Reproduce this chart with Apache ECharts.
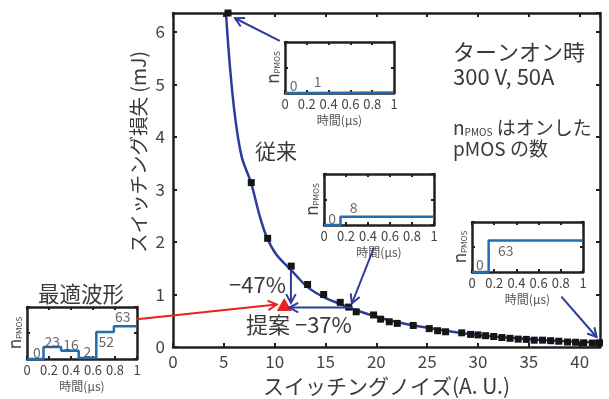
<!DOCTYPE html>
<html><head><meta charset="utf-8">
<script src="https://cdn.jsdelivr.net/npm/echarts@6/dist/echarts.min.js"></script>
<style>html,body{margin:0;padding:0;background:#fff}#c{width:609px;height:399px}</style>
</head><body><div id="c"></div>
<script>
// ---- main data: switching noise (A.U.) vs switching loss (mJ) ----
const noiseX = [5.41,7.70,9.31,11.63,13.24,14.82,16.45,17.28,18.02,19.73,20.42,21.27,22.06,23.63,25.20,26.03,26.81,28.40,29.27,30.00,30.75,31.55,32.35,33.15,33.95,34.75,35.53,36.35,37.15,37.95,38.80,39.60,40.40,41.25,41.95];
const lossY  = [6.36,3.13,2.07,1.54,1.19,1.00,0.85,0.76,0.67,0.61,0.53,0.48,0.45,0.41,0.35,0.31,0.29,0.27,0.24,0.23,0.215,0.20,0.18,0.165,0.15,0.145,0.13,0.13,0.12,0.11,0.095,0.09,0.08,0.075,0.08];
// fitted curve
const fitX = [5.21,5.60,6.10,6.76,7.67,8.55,9.27,10.20,11.60,13.24,14.82,16.42,17.99,21.24,25.17,29.20,33.14,37.07,41.99];
const fitY = [6.36,5.34,4.39,3.62,3.13,2.48,2.07,1.75,1.47,1.14,0.95,0.82,0.70,0.51,0.36,0.245,0.175,0.125,0.085];
// proposed point
const propX = [10.94];
const propY = [0.81];
// axis ticks
const xTickStep = 5, xMax = 42;
const yTickStep = 1, yMax = 6.36;
// ---- inset waveforms: time (us) vs n_PMOS ----
const insetTicks = [0,0.2,0.4,0.6,0.8,1];
const wfA_t = [0,0.15,1],  wfA_n = [0,1,1];
const wfB_t = [0,0.15,1],  wfB_n = [0,8,8];
const wfC_t = [0,0.15,1],  wfC_n = [0,63,63];
const wfD_t = [0,0.15,0.31,0.47,0.63,0.79,1], wfD_n = [0,23,16,2,52,63,63];
const insetYMax = [100,50,100,100];
// inset value labels [t, n, text]
const lblA = [[0.08,15,'0'],[0.30,22,'1']];
const lblB = [[0.075,6,'0'],[0.27,16.5,'8']];
const lblC = [[0.07,14,'0'],[0.305,43,'63']];
const lblD = [[0.09,13,'0'],[0.23,33.5,'23'],[0.40,27,'16'],[0.55,14,'2'],[0.72,33.5,'52'],[0.87,81,'63']];

const FONT = '"Noto Sans CJK JP","Noto Sans",sans-serif';
const TXT = '#3a3a3a';
const AX = '#231f20';
const BLUE = '#2b3c9e';
const STEP = '#1f6db3';
const RED = '#e8231f';

const chart = echarts.init(document.getElementById('c'), null, {renderer:'canvas'});

const insetBoxes = [
  {left:285, top:42, width:109, height:51},
  {left:324, top:174, width:110, height:51},
  {left:472, top:222, width:111, height:50},
  {left:27, top:307, width:110, height:52}
];
const wfs = [[wfA_t,wfA_n],[wfB_t,wfB_n],[wfC_t,wfC_n],[wfD_t,wfD_n]];
const lbls = [lblA,lblB,lblC,lblD];

const line = (w)=>({onZero:false, lineStyle:{color:AX,width:w}});
const grids = [{left:173, top:13, right:9, bottom:52, outerBoundsMode:'none'}];
const xAxes = [
  {gridIndex:0, type:'value', position:'bottom', min:0, max:xMax, interval:xTickStep,
   axisLine:line(2.5), splitLine:{show:false},
   axisTick:{inside:true,length:4,lineStyle:{color:AX,width:2}},
   axisLabel:{color:'#444',fontSize:17,fontFamily:FONT,margin:6,showMaxLabel:false},
   name:'スイッチングノイズ(A. U.)', nameLocation:'middle', nameGap:29,
   nameTextStyle:{color:TXT,fontSize:21,fontFamily:FONT}},
  {gridIndex:0, type:'value', position:'top', min:0, max:xMax, interval:xTickStep,
   axisLine:line(2.5), splitLine:{show:false},
   axisTick:{inside:true,length:4,lineStyle:{color:AX,width:2}}, axisLabel:{show:false}}
];
const yAxes = [
  {gridIndex:0, type:'value', position:'left', min:0, max:yMax, interval:yTickStep,
   axisLine:line(2.5), splitLine:{show:false},
   axisTick:{inside:true,length:4,lineStyle:{color:AX,width:2}},
   axisLabel:{color:'#444',fontSize:17,fontFamily:FONT,margin:8,showMaxLabel:false}},
  {gridIndex:0, type:'value', position:'right', min:0, max:yMax, interval:yTickStep,
   axisLine:line(2.5), splitLine:{show:false},
   axisTick:{inside:true,length:4,lineStyle:{color:AX,width:2}}, axisLabel:{show:false}}
];
const series = [
  {type:'line', xAxisIndex:0, yAxisIndex:0, data:fitX.map((x,i)=>[x,fitY[i]]),
   smooth:0.35, showSymbol:false, lineStyle:{color:BLUE,width:2.5}, z:2, clip:false},
  {type:'scatter', xAxisIndex:0, yAxisIndex:0, data:noiseX.map((x,i)=>[x,lossY[i]]),
   symbol:'rect', symbolSize:7, itemStyle:{color:'#151515',opacity:1}, z:3, clip:false},
  {type:'scatter', xAxisIndex:0, yAxisIndex:0, data:propX.map((x,i)=>[x,propY[i]]),
   symbol:'triangle', symbolSize:[15,13], itemStyle:{color:RED,opacity:1}, z:4, clip:false}
];

insetBoxes.forEach((b,k)=>{
  const gi = k+1;
  grids.push(Object.assign({outerBoundsMode:'none'}, b));
  const xi = xAxes.length, yi = yAxes.length;
  const ym = insetYMax[k];
  xAxes.push({gridIndex:gi, type:'value', position:'bottom', min:0, max:1, interval:0.2,
    axisLine:line(2.5), splitLine:{show:false},
    axisTick:{inside:true,length:3,lineStyle:{color:AX,width:2}},
    axisLabel:{color:'#444',fontSize:13,fontFamily:FONT,margin:5,
      formatter:v=>insetTicks.includes(Math.round(v*10)/10)?String(Math.round(v*10)/10):''},
    name:'時間(μs)', nameLocation:'middle', nameGap:21,
    nameTextStyle:{color:'#555',fontSize:12,fontFamily:FONT}});
  xAxes.push({gridIndex:gi, type:'value', position:'top', min:0, max:1, interval:0.2,
    axisLine:line(2.5), splitLine:{show:false},
    axisTick:{inside:true,length:3,lineStyle:{color:AX,width:2}}, axisLabel:{show:false}});
  yAxes.push({gridIndex:gi, type:'value', position:'left', min:0, max:ym, interval:ym/2,
    axisLine:line(2.5), splitLine:{show:false},
    axisTick:{inside:true,length:3,lineStyle:{color:AX,width:2}}, axisLabel:{show:false},
    name:'{n|n}{s|PMOS}', nameLocation:'middle', nameGap:4, nameRotate:90,
    nameTextStyle:{color:'#444',fontFamily:FONT,
      rich:{n:{fontSize:17,fontFamily:FONT,color:'#444'},s:{fontSize:8,fontFamily:FONT,color:'#444',verticalAlign:'bottom',padding:[6,0,0,0]}}}});
  yAxes.push({gridIndex:gi, type:'value', position:'right', min:0, max:ym, interval:ym/2,
    axisLine:line(2.5), splitLine:{show:false},
    axisTick:{inside:true,length:3,lineStyle:{color:AX,width:2}}, axisLabel:{show:false}});
  const [t,n] = wfs[k];
  series.push({type:'line', xAxisIndex:xi, yAxisIndex:yi, data:t.map((x,i)=>[x,n[i]]),
    step:'end', showSymbol:false, lineStyle:{color:STEP,width:2.5}, clip:false, z:5});
  series.push({type:'scatter', xAxisIndex:xi, yAxisIndex:yi, data:lbls[k],
    symbolSize:1, itemStyle:{color:'rgba(0,0,0,0)'}, z:6,
    label:{show:true, position:'inside', formatter:p=>p.data[2], color:'#444', fontSize:14, fontFamily:FONT}});
});

const option = {
  animation:false,
  backgroundColor:'#fff',
  grid:grids, xAxis:xAxes, yAxis:yAxes, series:series
};
chart.setOption(option);

// annotation arrows in main data coordinates
const arrows = [
  {from:[10.50,5.83], to:[6.10,6.26], color:BLUE},
  {from:[19.76,1.89], to:[17.60,0.83], color:BLUE},
  {from:[38.20,0.96], to:[41.66,0.19], color:BLUE},
  {from:[11.60,1.47], to:[11.60,0.84], color:BLUE},
  {from:[17.70,0.75], to:[11.45,0.75], color:BLUE},
  {from:[-3.54,0.53], to:[10.20,0.81], color:RED}
];
const gfx = [];
arrows.forEach(a=>{
  const p0 = chart.convertToPixel({seriesIndex:1}, a.from);
  const p1 = chart.convertToPixel({seriesIndex:1}, a.to);
  const ang = Math.atan2(p1[1]-p0[1], p1[0]-p0[0]);
  const L = 10, th = 0.5;
  const h1 = [p1[0]-L*Math.cos(ang-th), p1[1]-L*Math.sin(ang-th)];
  const h2 = [p1[0]-L*Math.cos(ang+th), p1[1]-L*Math.sin(ang+th)];
  gfx.push({type:'polyline', z:50, shape:{points:[p0,p1]}, style:{stroke:a.color,lineWidth:2,fill:null}});
  gfx.push({type:'polyline', z:50, shape:{points:[h1,p1,h2]}, style:{stroke:a.color,lineWidth:2,fill:null}});
});
const T = (x,y,text,size)=>({type:'text', z:60, x:x, y:y,
  style:{text:text, fill:TXT, font:size+'px '+FONT, textVerticalAlign:'middle'}});
gfx.push(T(453,52,'ターンオン時',22));
gfx.push(T(453,77,'300 V, 50A',22));
gfx.push({type:'text', z:60, x:453, y:128, style:{
  text:'{n|n}{s|PMOS}{t| はオンした}', textVerticalAlign:'middle', fill:TXT,
  rich:{n:{fontSize:19,fontFamily:FONT,fill:TXT},s:{fontSize:10,fontFamily:FONT,fill:TXT,verticalAlign:'bottom',padding:[7,0,0,0]},t:{fontSize:19,fontFamily:FONT,fill:TXT}}}});
gfx.push(T(453,149,'pMOS の数',19));
gfx.push(T(255,151,'従来',21));
gfx.push(T(229,285,'−47%',22));
gfx.push(T(246,325,'提案 −37%',22));
gfx.push({type:'text', z:60, x:81, y:294,
  style:{text:'最適波形', fill:TXT, font:'21.5px '+FONT, textAlign:'center', textVerticalAlign:'middle'}});
gfx.push({type:'text', z:60, x:139, y:152, rotation:Math.PI/2,
  style:{text:'スイッチング損失 (mJ)', fill:TXT, font:'19.5px '+FONT, textAlign:'center', textVerticalAlign:'middle'}});
chart.setOption({graphic:gfx});
</script>
</body></html>
